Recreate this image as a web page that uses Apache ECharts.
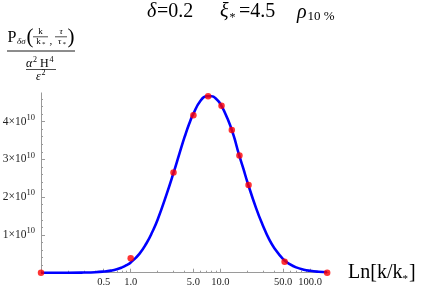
<!DOCTYPE html>
<html><head><meta charset="utf-8">
<script src="https://cdn.jsdelivr.net/npm/echarts@6/dist/echarts.min.js"></script>
<style>html,body{margin:0;padding:0;background:#fff}#c{width:421px;height:289px}</style>
</head><body><div id="c"></div>
<script>
// values of y are in units of 1e10
const curveX = [0.1,0.2,0.3,0.4,0.5,0.6,0.7,0.8,0.9,1.0,1.25,1.5,1.75,2,2.5,3,3.5,4,4.5,5,6,7,8,9,10,12,14,16,18,20,25,30,35,40,50,60,70,85,100,125,155];
const curveY = [0.0,0.0,0.004,0.012,0.03,0.055,0.09,0.14,0.2,0.27,0.5,0.78,1.09,1.41,2.06,2.64,3.16,3.6,3.95,4.21,4.55,4.67,4.67,4.6,4.47,4.08,3.64,3.15,2.76,2.4,1.71,1.23,0.88,0.65,0.36,0.22,0.14,0.08,0.05,0.025,0.01];
const dotX = [0.1,1.0,3.0,5.0,7.3,10.3,13.4,16.3,20.6,52,155];
const dotY = [0.0,0.38,2.65,4.17,4.67,4.42,3.78,3.10,2.32,0.29,0.0];
const xMajorTicks = [0.5,1,5,10,50,100];
const xMinorTicks = [0.2,0.3,0.4,0.6,0.7,0.8,0.9,2,3,4,6,7,8,9,20,30,40,60,70,80,90];
const yMajorTicks = [1,2,3,4];
const yMinorTicks = [0.2,0.4,0.6,0.8,1.2,1.4,1.6,1.8,2.2,2.4,2.6,2.8,3.2,3.4,3.6,3.8,4.2,4.4,4.6];
const xMin = 0.1, xMax = 160, yMax = 4.76;

const L = Math.log10;
const serif = "'Liberation Serif','Times New Roman',serif";
const axisGray = '#9a9a9a';
const chart = echarts.init(document.getElementById('c'));

function txt(text, x, y, size, opts) {
  opts = opts || {};
  return {type:'text', silent:true, style:Object.assign({
    text:text, x:x, y:y, fontSize:size, fontFamily:serif, fill:'#000',
    align:opts.align||'left', verticalAlign:'middle',
    textAlign:opts.align||'left', textVerticalAlign:'middle'
  }, opts.style||{})};
}
function hline(x1, x2, y, w) {
  return {type:'line', silent:true, shape:{x1:x1,y1:y,x2:x2,y2:y}, style:{stroke:'#000', lineWidth:w||0.8}};
}
const it = {fontStyle:'italic'};

const graphics = [
  // title
  txt('δ', 147, 12, 20, {style:it}),
  txt('=0.2', 157, 12, 20),
  txt('ξ', 220, 12, 20, {style:it}),
  txt('*', 229.5, 18, 12),
  txt('=4.5', 239, 12, 20),
  txt('ρ', 297, 13, 20, {style:it}),
  txt('10 %', 307.5, 17, 13),
  // y label formula
  txt('P', 7.5, 38, 16),
  txt('δσ', 17, 42, 9, {style:it}),
  txt('(', 26.5, 37, 21),
  txt('k', 40.5, 32, 9, {align:'center'}),
  hline(33, 48, 36.8, 0.7),
  txt('k', 38.5, 42, 9, {align:'center'}),
  txt('*', 42, 44.5, 7),
  txt(',', 49.5, 41, 11),
  txt('τ', 61, 32, 9, {align:'center', style:it}),
  hline(55, 67, 36.8, 0.7),
  txt('τ', 59.5, 42, 9, {align:'center', style:it}),
  txt('*', 62.5, 44.5, 7),
  txt(')', 67.5, 37, 21),
  hline(7, 75, 51, 0.9),
  txt('α', 26, 64, 12, {style:it}),
  txt('2', 33, 59.5, 8),
  txt('H', 40, 64, 12),
  txt('4', 49.5, 59.5, 8),
  hline(26, 56, 69.5, 0.7),
  txt('ε', 36, 77, 12, {style:it}),
  txt('2', 41.5, 73, 8),
  // x label
  txt('Ln[k/k', 348, 273, 20),
  txt('*', 402.5, 279, 11),
  txt(']', 409, 273, 20)
];

const option = {
  backgroundColor:'#fff',
  animation:false,
  grid:{left:41, top:92.9, width:287.4, height:179.8, containLabel:false, outerBoundsMode:'none'},
  xAxis:[{
    type:'value', min:L(xMin), max:L(xMax), position:'bottom',
    axisLine:{show:true, onZero:false, lineStyle:{color:axisGray, width:1}},
    axisTick:{show:true, inside:true, length:4, customValues:xMajorTicks.map(L), lineStyle:{color:axisGray}},
    axisLabel:{show:true, customValues:xMajorTicks.map(L), margin:4, fontSize:10.5, fontFamily:serif, color:'#222',
      formatter:function(v){return Math.pow(10,v).toFixed(1);}},
    splitLine:{show:false}
  },{
    type:'value', min:L(xMin), max:L(xMax), position:'bottom',
    axisLine:{show:false, onZero:false},
    axisTick:{show:true, inside:true, length:2, customValues:xMinorTicks.map(L), lineStyle:{color:axisGray}},
    axisLabel:{show:false},
    splitLine:{show:false}
  }],
  yAxis:[{
    type:'value', min:0, max:yMax, position:'left',
    axisLine:{show:true, onZero:false, lineStyle:{color:axisGray, width:1}},
    axisTick:{show:true, inside:true, length:4, customValues:yMajorTicks, lineStyle:{color:axisGray}},
    axisLabel:{show:true, customValues:yMajorTicks, margin:6, color:'#222',
      formatter:function(v){return '{m|'+v+'×10}{s|10}';},
      rich:{m:{fontSize:11.5, fontFamily:serif, color:'#222', lineHeight:17},
            s:{fontSize:8.5, fontFamily:serif, color:'#222', verticalAlign:'top', lineHeight:10}}},
    splitLine:{show:false}
  },{
    type:'value', min:0, max:yMax, position:'left',
    axisLine:{show:false, onZero:false},
    axisTick:{show:true, inside:true, length:2, customValues:yMinorTicks, lineStyle:{color:axisGray}},
    axisLabel:{show:false},
    splitLine:{show:false}
  }],
  series:[{
    type:'line', xAxisIndex:0, yAxisIndex:0,
    data:curveX.map(function(x,i){return [L(x), curveY[i]];}),
    smooth:0.5, showSymbol:false, symbol:'none',
    lineStyle:{color:'#0000ff', width:2.6}, z:2
  },{
    type:'scatter', xAxisIndex:0, yAxisIndex:0,
    data:dotX.map(function(x,i){return [L(x), dotY[i]];}),
    symbolSize:6.5, itemStyle:{color:'#ff0000'}, z:3
  }],
  graphic:graphics
};
chart.setOption(option);
</script></body></html>
